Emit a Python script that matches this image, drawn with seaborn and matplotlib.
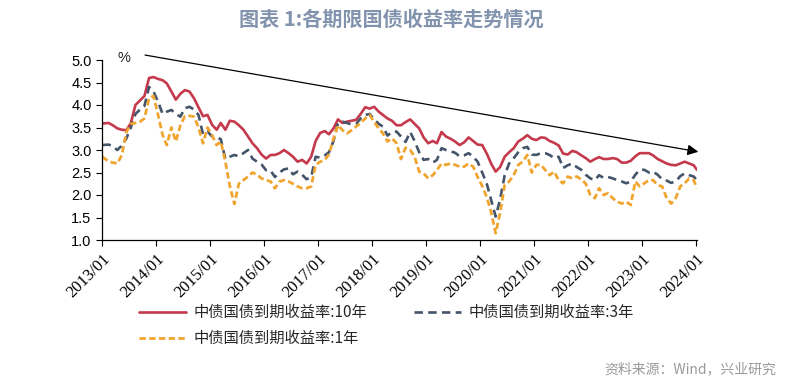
import numpy as np
import pandas as pd
import matplotlib
matplotlib.use("Agg")
import matplotlib.pyplot as plt
import seaborn as sns

# ---------------- data (monthly readings, %) ----------------
start_month = "2013-01-01"
n_months = 133
label_10y = "中债国债到期收益率:10年"
label_3y = "中债国债到期收益率:3年"
label_1y = "中债国债到期收益率:1年"
year_ticks = ["2013/01", "2014/01", "2015/01", "2016/01", "2017/01", "2018/01",
              "2019/01", "2020/01", "2021/01", "2022/01", "2023/01", "2024/01"]

y10 = [3.59, 3.60, 3.55, 3.48, 3.45, 3.44, 3.60, 4.00, 4.10, 4.20, 4.60, 4.62,
       4.58, 4.55, 4.48, 4.30, 4.12, 4.25, 4.33, 4.30, 4.15, 3.95, 3.75, 3.78,
       3.56, 3.45, 3.60, 3.45, 3.65, 3.63, 3.55, 3.45, 3.30, 3.15, 3.04, 2.90,
       2.81, 2.89, 2.89, 2.93, 3.00, 2.93, 2.85, 2.74, 2.78, 2.70, 2.85, 3.20,
       3.38, 3.42, 3.35, 3.48, 3.68, 3.60, 3.63, 3.65, 3.67, 3.80, 3.95, 3.92,
       3.96, 3.85, 3.78, 3.70, 3.65, 3.55, 3.55, 3.62, 3.68, 3.58, 3.48, 3.28,
       3.15, 3.20, 3.15, 3.40, 3.30, 3.25, 3.19, 3.11, 3.17, 3.28, 3.20, 3.12,
       3.11, 2.92, 2.70, 2.52, 2.62, 2.85, 2.95, 3.04, 3.19, 3.25, 3.33, 3.25,
       3.22, 3.28, 3.27, 3.20, 3.16, 3.10, 2.92, 2.90, 2.98, 2.95, 2.88, 2.82,
       2.74, 2.80, 2.84, 2.80, 2.80, 2.82, 2.80, 2.72, 2.72, 2.76, 2.86, 2.93,
       2.93, 2.93, 2.88, 2.80, 2.75, 2.70, 2.67, 2.66, 2.70, 2.74, 2.70, 2.66,
       2.56]

y3 = [3.11, 3.12, 3.08, 3.00, 3.10, 3.26, 3.50, 3.80, 3.90, 3.98, 4.40, 4.30,
      4.07, 3.80, 3.85, 3.89, 3.80, 3.74, 3.93, 3.96, 3.90, 3.78, 3.35, 3.41,
      3.30, 3.28, 3.24, 2.80, 2.85, 2.89, 2.86, 2.93, 3.00, 2.81, 2.74, 2.68,
      2.55, 2.54, 2.40, 2.50, 2.57, 2.59, 2.46, 2.52, 2.45, 2.35, 2.40, 2.85,
      2.83, 2.88, 2.95, 3.20, 3.60, 3.63, 3.60, 3.57, 3.58, 3.70, 3.78, 3.80,
      3.68, 3.58, 3.52, 3.32, 3.40, 3.41, 3.30, 3.18, 3.40, 3.20, 2.95, 2.78,
      2.80, 2.72, 2.78, 3.04, 3.00, 2.97, 2.94, 2.86, 2.88, 2.93, 2.85, 2.74,
      2.50, 2.25, 1.90, 1.52, 1.90, 2.44, 2.70, 2.82, 2.95, 3.04, 3.07, 2.90,
      2.89, 2.93, 2.93, 2.89, 2.82, 2.85, 2.60, 2.66, 2.70, 2.62, 2.56, 2.45,
      2.37, 2.33, 2.44, 2.38, 2.40, 2.37, 2.33, 2.30, 2.26, 2.30, 2.45, 2.56,
      2.56, 2.50, 2.52, 2.45, 2.35, 2.32, 2.27, 2.30, 2.42, 2.48, 2.44, 2.41,
      2.33]

y1 = [2.85, 2.74, 2.72, 2.70, 2.89, 3.40, 3.58, 3.60, 3.63, 3.70, 4.15, 4.20,
      3.78, 3.33, 3.11, 3.50, 3.19, 3.55, 3.75, 3.76, 3.74, 3.50, 3.15, 3.50,
      3.33, 3.11, 3.19, 2.74, 2.20, 1.80, 2.25, 2.33, 2.41, 2.50, 2.45, 2.37,
      2.33, 2.30, 2.15, 2.30, 2.33, 2.30, 2.25, 2.19, 2.15, 2.15, 2.19, 2.67,
      2.74, 2.78, 2.90, 3.25, 3.55, 3.44, 3.37, 3.44, 3.52, 3.60, 3.70, 3.78,
      3.62, 3.48, 3.37, 3.19, 3.26, 3.15, 2.80, 3.05, 3.00, 2.85, 2.52, 2.48,
      2.37, 2.44, 2.55, 2.70, 2.67, 2.70, 2.67, 2.63, 2.63, 2.70, 2.63, 2.40,
      2.20, 1.95, 1.63, 1.15, 1.60, 2.22, 2.30, 2.44, 2.67, 2.74, 2.89, 2.50,
      2.67, 2.67, 2.56, 2.44, 2.52, 2.33, 2.26, 2.41, 2.37, 2.41, 2.35, 2.25,
      2.00, 1.93, 2.15, 2.00, 2.04, 1.93, 1.85, 1.81, 1.85, 1.78, 2.30, 2.19,
      2.26, 2.33, 2.33, 2.22, 2.19, 1.93, 1.81, 1.93, 2.19, 2.26, 2.37, 2.33,
      2.15]

# ---------------- build frame ----------------
dates = list(pd.date_range(start_month, periods=n_months, freq="MS") + pd.Timedelta(days=14))
dates[0] = pd.Timestamp("2013-01-04")
dates[-1] = pd.Timestamp("2024-01-05")
df = pd.DataFrame({"date": dates, "y10": y10, "y3": y3, "y1": y1})

sns.set_style("ticks")
plt.rcParams["font.family"] = ["Noto Sans CJK SC", "DejaVu Sans"]
plt.rcParams["axes.unicode_minus"] = False

W, H = 801, 389
fig = plt.figure(figsize=(W / 100, H / 100), dpi=100)
ax = fig.add_axes([102 / W, 1 - 240 / H, (697 - 102) / W, (240 - 60) / H])

c10, c3, c1 = "#C4394B", "#44546A", "#F0A530"
sns.lineplot(data=df, x="date", y="y10", ax=ax, color=c10, lw=1.9, label=label_10y)
sns.lineplot(data=df, x="date", y="y3", ax=ax, color=c3, lw=1.9, label=label_3y)
sns.lineplot(data=df, x="date", y="y1", ax=ax, color=c1, lw=2.0, label=label_1y)
lines = ax.get_lines()
lines[1].set_dashes((3.2, 2.0))
lines[2].set_dashes((2.3, 1.2))

ax.set_xlim(pd.Timestamp("2013-01-01"), pd.Timestamp("2024-01-06"))
ax.set_ylim(1.0, 5.0)
yt = np.arange(1.0, 5.01, 0.5)
ax.set_yticks(yt)
ax.set_yticklabels([f"{v:.1f}" for v in yt], family="Liberation Sans", fontsize=10.5)
tick_dates = [pd.Timestamp(t.replace("/", "-") + "-01") for t in year_ticks]
ax.set_xticks(tick_dates)
ax.set_xticklabels(year_ticks, rotation=45, ha="right", rotation_mode="anchor",
                   family="Liberation Serif", fontsize=12)
ax.tick_params(axis="both", direction="out", length=4, width=0.8, colors="black")
ax.tick_params(axis="x", pad=4)
ax.set_xlabel("")
ax.set_ylabel("")
for s in ["top", "right"]:
    ax.spines[s].set_visible(False)
for s in ["left", "bottom"]:
    ax.spines[s].set_color("black")
    ax.spines[s].set_linewidth(0.9)

# trend arrow
ax.annotate("", xy=(pd.Timestamp("2024-01-15"), 2.96),
            xytext=(pd.Timestamp("2013-10-19"), 5.11),
            arrowprops=dict(arrowstyle="-|>", color="black", lw=0.9,
                            mutation_scale=16, shrinkA=0, shrinkB=0),
            annotation_clip=False)

fig.text(124 / W, 1 - 58 / H, "%", fontsize=10.5, family="Liberation Sans",
         ha="center", va="center")

# legend
handles, labels = ax.get_legend_handles_labels()
ax.get_legend().remove()
order = [0, 2, 1]
fig.legend([handles[i] for i in order], [labels[i] for i in order],
           ncol=2, loc="upper left", bbox_to_anchor=(139 / W, 1 - 304 / H),
           frameon=False, fontsize=11, handlelength=3.1, handletextpad=0.5,
           columnspacing=3.0, labelspacing=0.6, borderpad=0, borderaxespad=0)

# title and source
fig.text(391 / W, 1 - 19 / H, "图表 1:各期限国债收益率走势情况", ha="center",
         va="center", fontsize=14.5, fontweight="bold", color="#8294AD")
fig.text(776 / W, 1 - 369 / H, "资料来源：Wind，兴业研究", ha="right", va="center",
         fontsize=10, color="#9A9A9A")

fig.savefig("out.png", dpi=100)
